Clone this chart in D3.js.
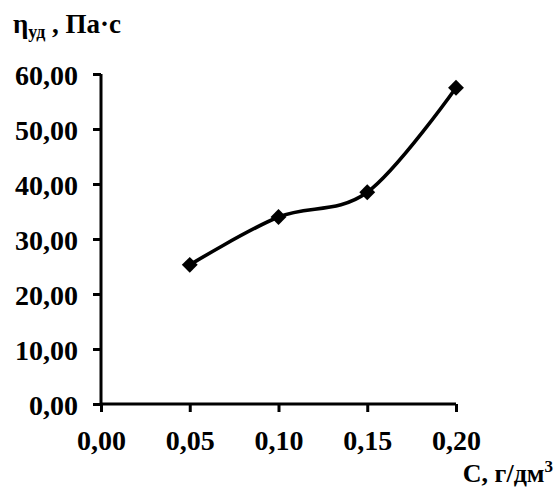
<!DOCTYPE html>
<html><head><meta charset="utf-8">
<script src="https://cdn.jsdelivr.net/npm/d3@7"></script>
<style>body{margin:0;background:#fff}svg{display:block}text{font-family:"Liberation Serif","Times New Roman",serif;font-weight:bold;fill:#000}</style>
</head><body><svg id="c" width="556" height="496"></svg>
<script>
const concentrations = [0.05, 0.10, 0.15, 0.20];
const viscosity = [25.3, 34.0, 38.5, 57.5];
const xTicks = [0, 0.05, 0.10, 0.15, 0.20];
const yTicks = [0, 10, 20, 30, 40, 50, 60];
const fmt = v => v.toFixed(2).replace('.', ',');

const svg = d3.select('#c');
const x = d3.scaleLinear().domain([0, 0.2]).range([101, 456]);
const y = d3.scaleLinear().domain([0, 60]).range([404, 74]);

const yAxis = svg.append('g').attr('transform','translate(101,0)')
  .call(d3.axisLeft(y).tickValues(yTicks).tickFormat(fmt).tickSize(8).tickPadding(15));
const xAxis = svg.append('g').attr('transform','translate(0,404)')
  .call(d3.axisBottom(x).tickValues(xTicks).tickFormat(fmt).tickSize(8).tickPadding(18));
[yAxis, xAxis].forEach(g => {
  g.select('.domain').attr('stroke','#000').attr('stroke-width',3);
  g.selectAll('.tick line').attr('stroke','#000').attr('stroke-width',3);
  g.selectAll('.tick text').style('font-size','28px').attr('fill','#000');
});
yAxis.select('.domain').attr('d','M101,74V404').attr('transform','translate(-101,0)');
xAxis.select('.domain').attr('d','M101,0H456');
yAxis.selectAll('.tick text').attr('dy','0.36em');
xAxis.selectAll('.tick text').attr('dy','0.7em');

const data = concentrations.map((c,i)=>({c, v: viscosity[i]}));
svg.append('path').datum(data)
  .attr('fill','none').attr('stroke','#000').attr('stroke-width',3.6)
  .attr('d', d3.line().x(d=>x(d.c)).y(d=>y(d.v)).curve(d3.curveCardinal.tension(0)));
svg.selectAll('.m').data(data).enter().append('path')
  .attr('transform', d=>`translate(${x(d.c)},${y(d.v)})`)
  .attr('d', d3.symbol(d3.symbolDiamond2, 160))
  .attr('fill','#000');

const t = svg.append('text').attr('x',13).attr('y',33).style('font-size','27px');
t.append('tspan').text('η');
t.append('tspan').text('уд').style('font-size','18px').attr('dy',5);
t.append('tspan').text(' , Па·с').attr('dy',-5);

const xl = svg.append('text').attr('x',553).attr('y',482).attr('text-anchor','end').style('font-size','26px');
xl.append('tspan').text('С, г/дм');
xl.append('tspan').text('3').style('font-size','17px').attr('dy',-10);
</script></body></html>
